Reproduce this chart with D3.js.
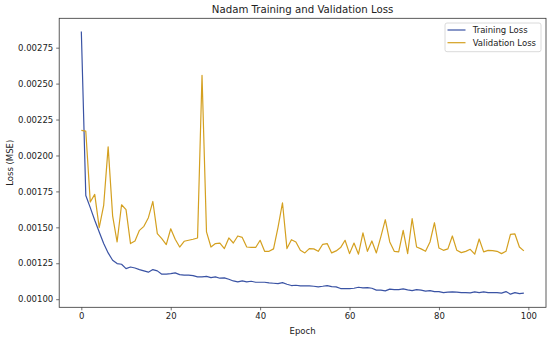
<!DOCTYPE html>
<html>
<head>
<meta charset="utf-8">
<script src="https://cdn.jsdelivr.net/npm/d3@7"></script>
<style>
  html, body { margin: 0; padding: 0; background: #fff; }
  svg { display: block; font-family: "DejaVu Sans", sans-serif; }
</style>
</head>
<body>
<svg id="chart" width="550" height="340"></svg>
<script>
const title = "Nadam Training and Validation Loss";
const xLabel = "Epoch";
const yLabel = "Loss (MSE)";
const seriesNames = ["Training Loss", "Validation Loss"];
const seriesColors = ["#3a53a4", "#d4a020"];
const xTicks = [0, 20, 40, 60, 80, 100];
const yTicks = [0.00100, 0.00125, 0.00150, 0.00175, 0.00200, 0.00225, 0.00250, 0.00275];

const trainingLoss = [
  0.002863, 0.001722, 0.001637, 0.001549, 0.001468, 0.001387, 0.001322, 0.001271, 0.001248, 0.001243,
  0.001213, 0.001224, 0.001217, 0.001206, 0.001197, 0.001188, 0.001206, 0.001197, 0.001174, 0.001174,
  0.001178, 0.001183, 0.001171, 0.001167, 0.001167, 0.001164, 0.001155, 0.001155, 0.001159, 0.001150,
  0.001155, 0.001146, 0.001148, 0.001139, 0.001127, 0.001120, 0.001127, 0.001120, 0.001125, 0.001118,
  0.001118, 0.001118, 0.001113, 0.001111, 0.001108, 0.001115, 0.001104, 0.001095, 0.001097, 0.001093,
  0.001093, 0.001093, 0.001090, 0.001086, 0.001090, 0.001095, 0.001088, 0.001086, 0.001074, 0.001074,
  0.001074, 0.001076, 0.001083, 0.001079, 0.001081, 0.001076, 0.001063, 0.001063, 0.001058, 0.001070,
  0.001067, 0.001067, 0.001072, 0.001065, 0.001060, 0.001067, 0.001063, 0.001056, 0.001060, 0.001053,
  0.001053, 0.001046, 0.001049, 0.001051, 0.001049, 0.001046, 0.001046, 0.001044, 0.001051, 0.001046,
  0.001051, 0.001046, 0.001046, 0.001046, 0.001042, 0.001053, 0.001035, 0.001046, 0.001039, 0.001042
];
const validationLoss = [
  0.002174, 0.002169, 0.001676, 0.001729, 0.001498, 0.001653, 0.002060, 0.001580, 0.001398, 0.001657,
  0.001623, 0.001387, 0.001405, 0.001479, 0.001507, 0.001567, 0.001680, 0.001456, 0.001421, 0.001380,
  0.001490, 0.001417, 0.001363, 0.001403, 0.001410, 0.001417, 0.001426, 0.002558, 0.001468, 0.001363,
  0.001387, 0.001390, 0.001352, 0.001426, 0.001391, 0.001440, 0.001430, 0.001363, 0.001360, 0.001360,
  0.001410, 0.001333, 0.001333, 0.001350, 0.001500, 0.001671, 0.001352, 0.001414, 0.001398, 0.001340,
  0.001322, 0.001352, 0.001350, 0.001333, 0.001382, 0.001387, 0.001322, 0.001336, 0.001359, 0.001410,
  0.001317, 0.001391, 0.001313, 0.001461, 0.001333, 0.001405, 0.001322, 0.001433, 0.001553, 0.001398,
  0.001333, 0.001329, 0.001479, 0.001317, 0.001560, 0.001363, 0.001350, 0.001333, 0.001398, 0.001532,
  0.001356, 0.001340, 0.001350, 0.001440, 0.001340, 0.001324, 0.001333, 0.001347, 0.001313, 0.001419,
  0.001329, 0.001340, 0.001338, 0.001333, 0.001317, 0.001333, 0.001451, 0.001454, 0.001363, 0.001336
];
const epochs = d3.range(trainingLoss.length);
const series = [trainingLoss, validationLoss];

const svg = d3.select("#chart");
const W = 550, H = 340;
const margin = { left: 59.2, right: W - 546, top: 18.3, bottom: H - 307.3 };
const iw = W - margin.left - margin.right;
const ih = H - margin.top - margin.bottom;

const xMin = d3.min(epochs), xMax = d3.max(epochs);
const xPad = (xMax - xMin) * 0.05;
const allVals = trainingLoss.concat(validationLoss);
const yMin = d3.min(allVals), yMax = d3.max(allVals);
const yPad = (yMax - yMin) * 0.05;

const x = d3.scaleLinear().domain([xMin - xPad, xMax + xPad]).range([margin.left, margin.left + iw]);
const y = d3.scaleLinear().domain([yMin - yPad, yMax + yPad]).range([margin.top + ih, margin.top]);

const axisColor = "#333";
const fontSize = 8.5;

// lines
const line = d3.line().x((d, i) => x(epochs[i])).y(d => y(d));
series.forEach((s, k) => {
  svg.append("path")
    .datum(s)
    .attr("fill", "none")
    .attr("stroke", seriesColors[k])
    .attr("stroke-width", 1.2)
    .attr("stroke-linejoin", "round")
    .attr("d", line);
});

// axes
const xAxis = d3.axisBottom(x).tickValues(xTicks).tickSize(3).tickPadding(3).tickFormat(d3.format("d"));
const yAxis = d3.axisLeft(y).tickValues(yTicks).tickSize(3).tickPadding(3).tickFormat(d3.format(".5f"));

const gx = svg.append("g").attr("transform", `translate(0,${margin.top + ih})`).call(xAxis);
const gy = svg.append("g").attr("transform", `translate(${margin.left},0)`).call(yAxis);
[gx, gy].forEach(g => {
  g.select(".domain").remove();
  g.selectAll(".tick line").attr("stroke", axisColor).attr("stroke-width", 0.7);
  g.selectAll(".tick text").attr("fill", "#222").style("font-size", fontSize + "px").style("font-family", "DejaVu Sans");
});

// frame
svg.append("rect")
  .attr("x", margin.left).attr("y", margin.top)
  .attr("width", iw).attr("height", ih)
  .attr("fill", "none").attr("stroke", axisColor).attr("stroke-width", 0.8);

// title & labels
svg.append("text").attr("x", margin.left + iw / 2).attr("y", 13)
  .attr("text-anchor", "middle").style("font-size", "10.2px").attr("fill", "#222").text(title);
svg.append("text").attr("x", margin.left + iw / 2).attr("y", 333.5)
  .attr("text-anchor", "middle").style("font-size", fontSize + "px").attr("fill", "#222").text(xLabel);
svg.append("text")
  .attr("transform", `translate(12.5,${margin.top + ih / 2}) rotate(-90)`)
  .attr("text-anchor", "middle").style("font-size", fontSize + "px").attr("fill", "#222").text(yLabel);

// legend
const lg = svg.append("g");
lg.append("rect").attr("x", 445).attr("y", 23).attr("width", 96).attr("height", 28.7)
  .attr("rx", 2).attr("fill", "#fff").attr("fill-opacity", 0.8).attr("stroke", "#d0d0d0").attr("stroke-width", 0.8);
seriesNames.forEach((name, k) => {
  const yy = 30 + k * 12.7;
  lg.append("line").attr("x1", 447.5).attr("x2", 465.5).attr("y1", yy).attr("y2", yy)
    .attr("stroke", seriesColors[k]).attr("stroke-width", 1.2);
  lg.append("text").attr("x", 472.7).attr("y", yy + 3).style("font-size", fontSize + "px")
    .attr("fill", "#222").text(name);
});
</script>
</body>
</html>
